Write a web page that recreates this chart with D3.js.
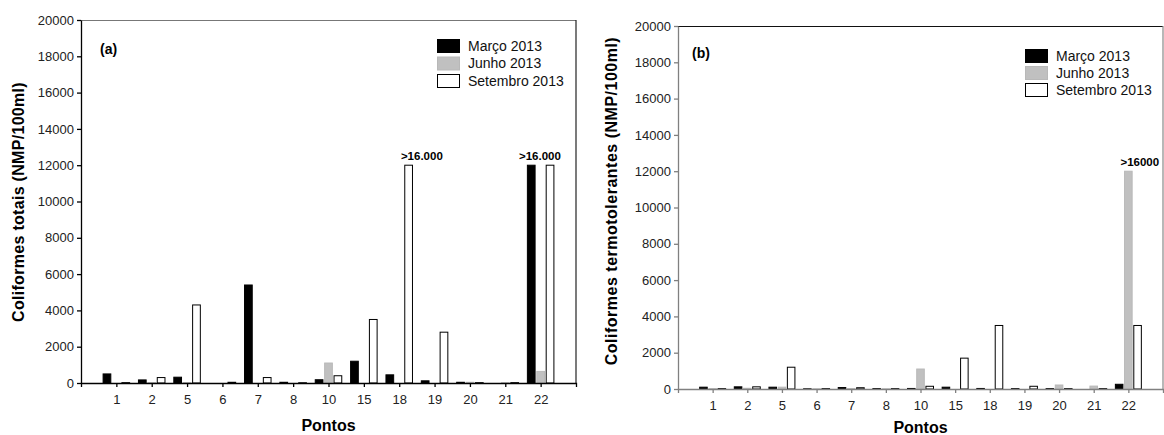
<!DOCTYPE html>
<html>
<head>
<meta charset="utf-8">
<script src="https://cdn.jsdelivr.net/npm/d3@7"></script>
<style>
  body { margin: 0; background: #fff; }
  svg { display: block; font-family: "Liberation Sans", Arial, sans-serif; }
</style>
</head>
<body>
<svg id="chart" width="1164" height="435"></svg>
<script>
const pontos = ["1", "2", "5", "6", "7", "8", "10", "15", "18", "19", "20", "21", "22"]
const seriesNames = ["Março 2013", "Junho 2013", "Setembro 2013"]
const yTicks = [0, 2000, 4000, 6000, 8000, 10000, 12000, 14000, 16000, 18000, 20000]

// (a) coliformes totais
const marcoA = [500, 170, 320, 0, 5400, 40, 180, 1200, 450, 120, 40, 0, 12000]
const junhoA = [0, 20, 20, 0, 0, 0, 1100, 0, 0, 0, 40, 15, 640]
const setembroA = [20, 300, 4300, 40, 300, 15, 400, 3500, 12000, 2800, 20, 20, 12000]
const notesA = [{ponto: "18", serie: "Setembro 2013", text: ">16.000", dx: 0.64}, {ponto: "22", serie: "Março 2013", text: ">16.000", dx: -0.02}]

// (b) coliformes termotolerantes
const marcoB = [100, 120, 100, 10, 80, 20, 30, 100, 30, 20, 20, 0, 260]
const junhoB = [20, 40, 100, 10, 20, 10, 1100, 0, 0, 0, 220, 160, 12000]
const setembroB = [20, 120, 1200, 20, 70, 20, 150, 1700, 3500, 150, 20, 20, 3500]
const notesB = [{ponto: "22", serie: "Junho 2013", text: ">16000", dx: 0.33}]

const fills = {"Março 2013": "#000", "Junho 2013": "#c0c0c0", "Setembro 2013": "#fff"}
const strokes = {"Março 2013": "#000", "Junho 2013": "#b8b8b8", "Setembro 2013": "#000"}

const svg = d3.select("#chart")

function drawPanel(cfg){
    const g = svg.append("g").attr("transform", `translate(${cfg.left},${cfg.top})`)
    const w = cfg.right - cfg.left
    const h = cfg.bottom - cfg.top

    const x = d3.scalePoint().domain(pontos).range([0, w]).padding(1)
    const step = x.step()
    const xs = d3.scaleBand().domain(seriesNames)
        .range([-step * 0.375, step * 0.375]).paddingInner(0.18)
    const y = d3.scaleLinear().domain([0, 20000]).range([h, 0])

    // frame top/right
    g.append("line").attr("x1", 0).attr("x2", w).attr("y1", 0.5).attr("y2", 0.5)
        .attr("stroke", cfg.frameTop).attr("stroke-width", 1.2)
    g.append("line").attr("x1", w).attr("x2", w).attr("y1", 0).attr("y2", h)
        .attr("stroke", cfg.frameRight).attr("stroke-width", 1.2)

    const rows = []
    seriesNames.forEach((s, si) => {
        cfg.values[si].forEach((v, i) => rows.push({serie: s, ponto: pontos[i], value: v}))
    })

    g.append("g").selectAll("rect")
        .data(rows.filter(d => d.value > 0))
        .join("rect")
        .attr("x", d => x(d.ponto) + xs(d.serie))
        .attr("width", xs.bandwidth())
        .attr("y", d => y(d.value))
        .attr("height", d => Math.max(0.5, y(0) - y(d.value)))
        .attr("fill", d => fills[d.serie])
        .attr("stroke", d => strokes[d.serie])
        .attr("stroke-width", 1)

    // axes
    const yAxis = g.append("g")
        .call(d3.axisLeft(y).tickValues(yTicks).tickFormat(d3.format("d"))
            .tickSize(4).tickSizeOuter(0).tickPadding(3))
        .attr("font-family", null).attr("font-size", 13)
    yAxis.selectAll("text").attr("fill", "#222")
    yAxis.selectAll("line, path").attr("stroke", cfg.axisColor).attr("stroke-width", 1.3)

    const xAxis = g.append("g").attr("transform", `translate(0,${h})`)
        .call(d3.axisBottom(x).tickSize(4).tickSizeOuter(4).tickPadding(8))
        .attr("font-family", null).attr("font-size", 13)
    xAxis.selectAll("text").attr("fill", "#222")
    xAxis.selectAll("line, path").attr("stroke", cfg.axisColor).attr("stroke-width", 1.3)

    // >16.000 notes
    cfg.notes.forEach(n => {
        const i = seriesNames.indexOf(n.serie)
        g.append("text")
            .attr("x", x(n.ponto) + n.dx * step)
            .attr("y", y(cfg.values[i][pontos.indexOf(n.ponto)]) - 5)
            .attr("text-anchor", "middle")
            .attr("font-size", 11.5).attr("font-weight", "bold")
            .text(n.text)
    })

    // panel letter
    g.append("text").attr("x", cfg.letterX).attr("y", cfg.letterY)
        .attr("font-size", 14).attr("font-weight", "bold").text(cfg.letter)

    // legend
    const lg = g.append("g").attr("transform", `translate(${cfg.legendX},${cfg.legendY})`)
    seriesNames.forEach((s, i) => {
        lg.append("rect").attr("x", 0.5).attr("y", i * cfg.legendStep + 0.5)
            .attr("width", 22).attr("height", 13)
            .attr("fill", fills[s]).attr("stroke", strokes[s])
        lg.append("text").attr("x", 31).attr("y", i * cfg.legendStep + 11.5)
            .attr("font-size", 14).attr("fill", "#111").text(s)
    })

    // titles
    svg.append("text")
        .attr("transform", `translate(${cfg.yTitleX},${cfg.yTitleY}) rotate(-90)`)
        .attr("text-anchor", "middle").attr("font-size", 16).attr("font-weight", "bold")
        .attr("letter-spacing", cfg.yTitleSpacing)
        .text(cfg.yTitle)
    svg.append("text")
        .attr("x", cfg.left + w / 2).attr("y", cfg.xTitleY)
        .attr("text-anchor", "middle").attr("font-size", 16).attr("font-weight", "bold")
        .text("Pontos")
}

drawPanel({
    left: 81, top: 20, right: 576, bottom: 383,
    values: [marcoA, junhoA, setembroA], notes: notesA,
    axisColor: "#000", frameTop: "#777", frameRight: "#222",
    letter: "(a)", letterX: 19, letterY: 34,
    legendX: 356, legendY: 19, legendStep: 17.5,
    yTitle: "Coliformes totais (NMP/100ml)", yTitleX: 24, yTitleY: 202, yTitleSpacing: 0.3,
    xTitleY: 431
})

drawPanel({
    left: 678, top: 26, right: 1163, bottom: 389,
    values: [marcoB, junhoB, setembroB], notes: notesB,
    axisColor: "#808080", frameTop: "#111", frameRight: "#888",
    letter: "(b)", letterX: 14, letterY: 32,
    legendX: 347, legendY: 23, legendStep: 17,
    yTitle: "Coliformes termotolerantes (NMP/100ml)", yTitleX: 617, yTitleY: 201, yTitleSpacing: 0.5,
    xTitleY: 433
})
</script>
</body>
</html>
